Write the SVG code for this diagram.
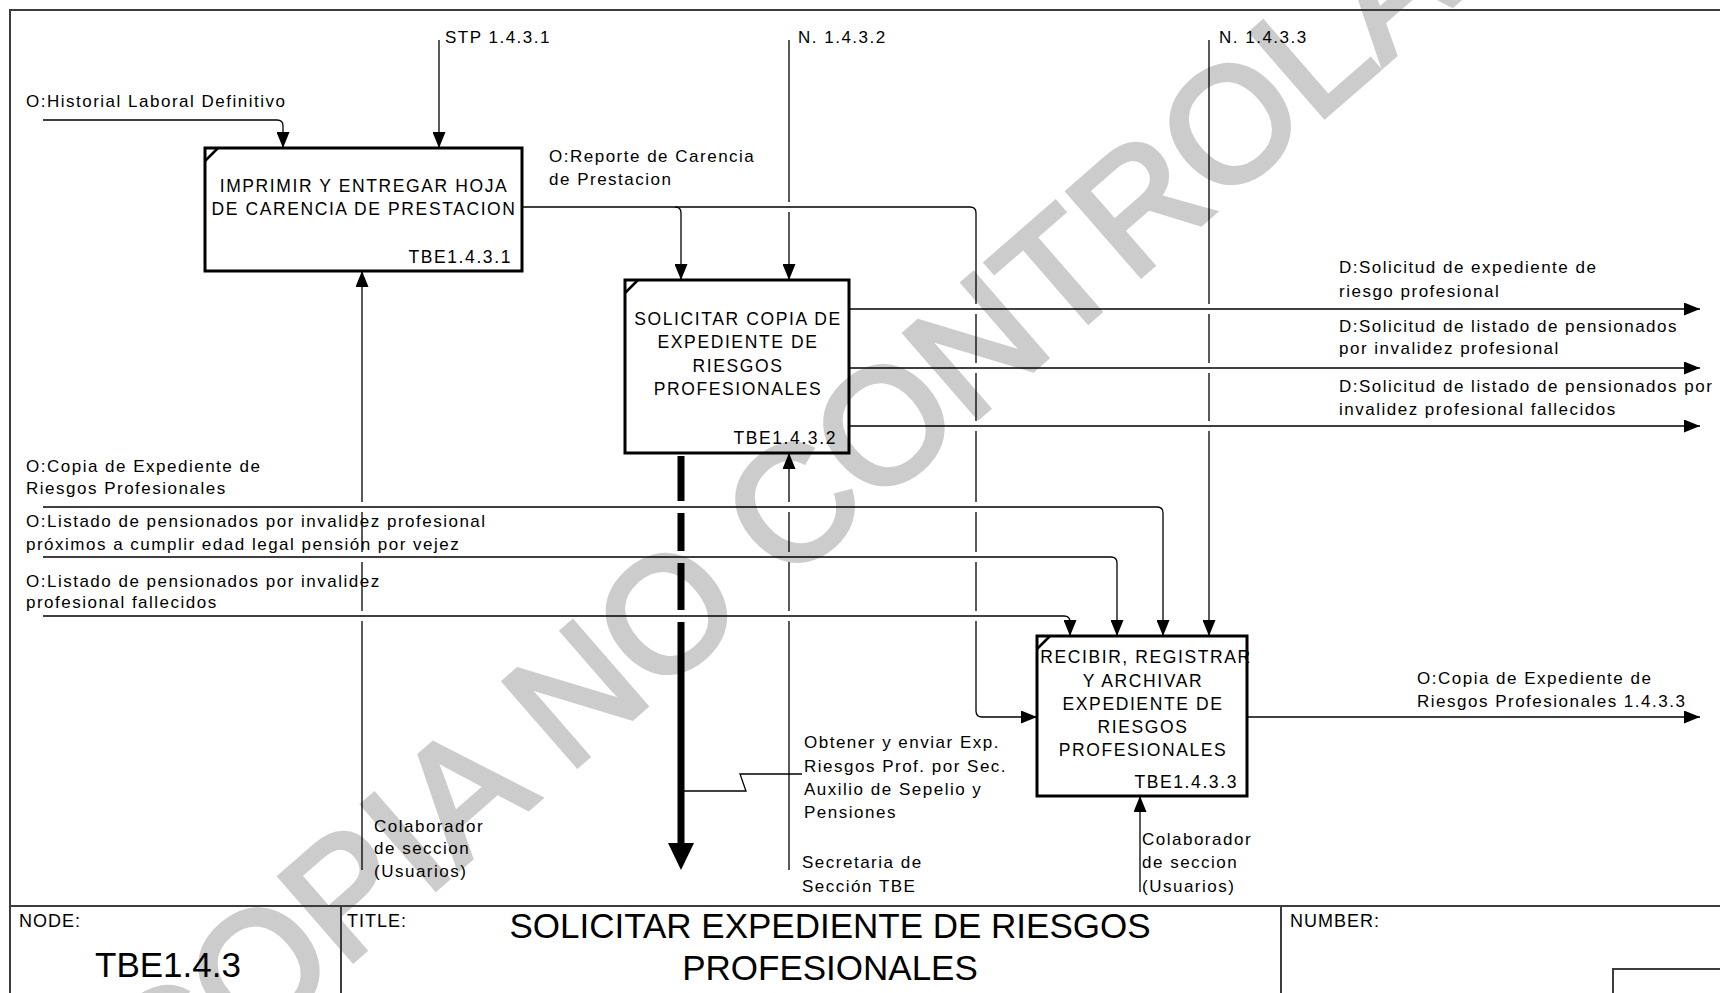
<svg xmlns="http://www.w3.org/2000/svg" width="1720" height="993" viewBox="0 0 1720 993">
<style>
text{font-family:"Liberation Sans",Arial,sans-serif;fill:#000}
.lbl{font-size:17px;letter-spacing:1.5px}
.bt{font-size:17.5px;letter-spacing:1.6px;text-anchor:middle}
.id{font-size:17.5px;letter-spacing:1.6px;text-anchor:end}
.tb{font-size:18px;letter-spacing:1px}
.big{font-size:35px}
.box{fill:none;stroke:#000;stroke-width:3}
.tick{stroke:#000;stroke-width:2.5;fill:none}
.c{fill:none;stroke:#000;stroke-width:1.3}
.ca{fill:none;stroke:#000;stroke-width:1.3;marker-end:url(#a)}
.frame{fill:none;stroke:#3c3c3c;stroke-width:2}
.wm{font-size:162px;fill:#cccccc;stroke:#cccccc;stroke-width:5;stroke-linejoin:miter;text-anchor:middle}
</style>
<defs>
<marker id="a" markerWidth="16" markerHeight="13" refX="16" refY="6.5" orient="auto" markerUnits="userSpaceOnUse"><path d="M0,0 L16,6.5 L0,13 Z" fill="#000"/></marker>
</defs>
<rect width="1720" height="993" fill="#fff"/>
<text class="wm" x="897" y="488" transform="rotate(-41 897 488)">COPIA NO CONTROLADA</text>

<g id="frame">
<path class="frame" d="M10,993 V10 H1722"/>
<path class="frame" d="M10,906 H1722 M341,906 V995 M1281,906 V995"/>
<rect class="frame" x="1613" y="969" width="120" height="40"/>
<text class="tb" x="19" y="927">NODE:</text>
<text class="tb" x="347" y="927">TITLE:</text>
<text class="tb" x="1290" y="927">NUMBER:</text>
<text class="big" x="95" y="977">TBE1.4.3</text>
<text class="big" x="830" y="938" text-anchor="middle">SOLICITAR EXPEDIENTE DE RIESGOS</text>
<text class="big" x="830" y="980" text-anchor="middle">PROFESIONALES</text>
</g>

<g id="connectors">
<path class="ca" d="M43,120 H277 Q283,120 283,126 V148"/>
<path class="ca" d="M439,40 V148"/>
<path class="ca" d="M789,40 V202 M789,212 V280"/>
<path class="ca" d="M1209,40 V304 M1209,314 V363 M1209,373 V421 M1209,431 V636"/>
<path class="ca" d="M522,207 H675 Q681,207 681,213 V280"/>
<path class="ca" d="M675,207 H970 Q976,207 976,213 V304 M976,314 V363 M976,373 V421 M976,431 V502 M976,512 V552 M976,562 V611 M976,621 V711 Q976,717 982,717 H1037"/>
<path class="ca" d="M849,309 H1700"/>
<path class="ca" d="M849,368 H1700"/>
<path class="ca" d="M849,426 H1700"/>
<path class="ca" d="M43,507 H1157 Q1163,507 1163,513 V636"/>
<path class="ca" d="M43,557 H1111 Q1117,557 1117,563 V636"/>
<path class="ca" d="M43,616 H1064 Q1070,616 1070,622 V636"/>
<path class="ca" d="M1247,717 H1700"/>
<path class="ca" d="M362,870 V621 M362,611 V562 M362,552 V512 M362,502 V271"/>
<path class="ca" d="M789,870 V621 M789,611 V562 M789,552 V512 M789,502 V453"/>
<path class="ca" d="M1140,892 V796"/>
<path d="M681,456 V501 M681,513 V551 M681,563 V610 M681,622 V846" fill="none" stroke="#000" stroke-width="7"/>
<polygon points="668,843 694,843 681,870" fill="#000"/>
<path class="c" d="M684,791 H746 L740,774 H802"/>
</g>

<g id="labels">
<text class="lbl" x="26" y="107">O:Historial Laboral Definitivo</text>
<text class="lbl" x="445" y="43">STP 1.4.3.1</text>
<text class="lbl" x="798" y="43">N. 1.4.3.2</text>
<text class="lbl" x="1219" y="43">N. 1.4.3.3</text>
<text class="lbl" x="549" y="162">O:Reporte de Carencia</text>
<text class="lbl" x="549" y="185">de Prestacion</text>
<text class="lbl" x="1339" y="273">D:Solicitud de expediente de</text>
<text class="lbl" x="1339" y="297">riesgo profesional</text>
<text class="lbl" x="1339" y="332">D:Solicitud de listado de pensionados</text>
<text class="lbl" x="1339" y="354">por invalidez profesional</text>
<text class="lbl" x="1339" y="392">D:Solicitud de listado de pensionados por</text>
<text class="lbl" x="1339" y="415">invalidez profesional fallecidos</text>
<text class="lbl" x="26" y="472">O:Copia de Expediente de</text>
<text class="lbl" x="26" y="494">Riesgos Profesionales</text>
<text class="lbl" x="26" y="527">O:Listado de pensionados por invalidez profesional</text>
<text class="lbl" x="26" y="550">próximos a cumplir edad legal pensión por vejez</text>
<text class="lbl" x="26" y="587">O:Listado de pensionados por invalidez</text>
<text class="lbl" x="26" y="608">profesional fallecidos</text>
<text class="lbl" x="1417" y="684">O:Copia de Expediente de</text>
<text class="lbl" x="1417" y="707">Riesgos Profesionales 1.4.3.3</text>
<text class="lbl" x="804" y="748">Obtener y enviar Exp.</text>
<text class="lbl" x="804" y="772">Riesgos Prof. por Sec.</text>
<text class="lbl" x="804" y="795">Auxilio de Sepelio y</text>
<text class="lbl" x="804" y="818">Pensiones</text>
<text class="lbl" x="802" y="868">Secretaria de</text>
<text class="lbl" x="802" y="892">Sección TBE</text>
<text class="lbl" x="374" y="832">Colaborador</text>
<text class="lbl" x="374" y="854">de seccion</text>
<text class="lbl" x="374" y="877">(Usuarios)</text>
<text class="lbl" x="1142" y="845">Colaborador</text>
<text class="lbl" x="1142" y="868">de seccion</text>
<text class="lbl" x="1142" y="892">(Usuarios)</text>
</g>

<g id="node-TBE1.4.3.1">
<rect class="box" x="205" y="148" width="317" height="123"/>
<path class="tick" d="M205,161 L218,148"/>
<text class="bt" x="364" y="192">IMPRIMIR Y ENTREGAR HOJA</text>
<text class="bt" x="364" y="215">DE CARENCIA DE PRESTACION</text>
<text class="id" x="512" y="263">TBE1.4.3.1</text>
</g>

<g id="node-TBE1.4.3.2">
<rect class="box" x="625" y="280" width="224" height="173"/>
<path class="tick" d="M625,293 L638,280"/>
<text class="bt" x="738" y="325">SOLICITAR COPIA DE</text>
<text class="bt" x="738" y="348">EXPEDIENTE DE</text>
<text class="bt" x="738" y="372">RIESGOS</text>
<text class="bt" x="738" y="395">PROFESIONALES</text>
<text class="id" x="837" y="444">TBE1.4.3.2</text>
</g>

<g id="node-TBE1.4.3.3">
<rect class="box" x="1037" y="636" width="210" height="160"/>
<path class="tick" d="M1037,649 L1050,636"/>
<text class="bt" x="1146" y="663">RECIBIR, REGISTRAR</text>
<text class="bt" x="1143" y="687">Y ARCHIVAR</text>
<text class="bt" x="1143" y="710">EXPEDIENTE DE</text>
<text class="bt" x="1143" y="733">RIESGOS</text>
<text class="bt" x="1143" y="756">PROFESIONALES</text>
<text class="id" x="1238" y="788">TBE1.4.3.3</text>
</g>
</svg>
